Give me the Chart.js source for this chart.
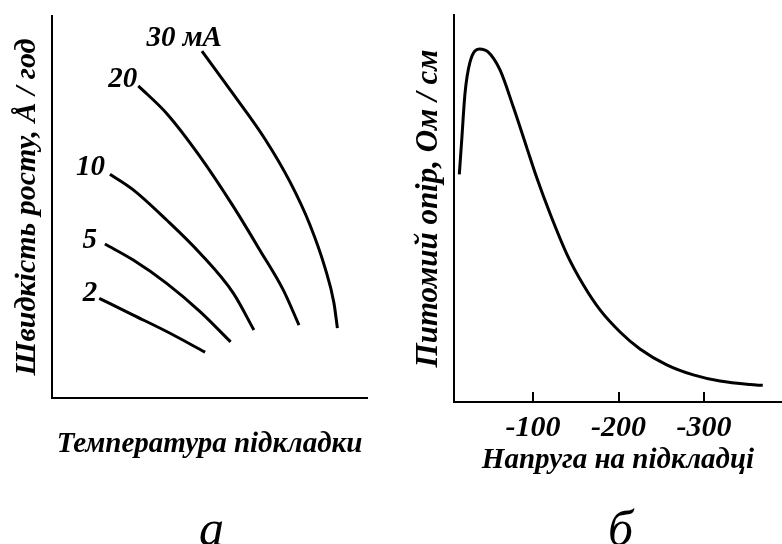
<!DOCTYPE html>
<html><head><meta charset="utf-8">
<script src="https://cdn.jsdelivr.net/npm/chart.js@4.4.0/dist/chart.umd.min.js"></script>
<style>
body{margin:0;background:#fff;width:782px;height:544px;overflow:hidden;position:relative;}
#c1{position:absolute;left:0;top:0;}
#c2{position:absolute;left:400px;top:0;}
.cap{position:absolute;font-family:'Liberation Serif',serif;font-style:italic;font-size:50px;line-height:50px;color:#000;}
</style></head><body>
<canvas id="c1" width="390" height="480"></canvas>
<canvas id="c2" width="382" height="480"></canvas>
<div class="cap" style="left:199px;top:503px;">а</div>
<div class="cap" style="left:608px;top:503px;">б</div>
<script>
// ---- Panel а: growth rate vs substrate temperature (relative units) ----
const currentLabels = ['2', '5', '10', '20', '30 мА'];
const c2X  = [15.0, 25.8, 36.4, 48.6];
const c2Y  = [26.1, 21.7, 17.4, 12.0];
const c5X  = [16.8, 25.8, 36.4, 47.0, 56.7];
const c5Y  = [40.3, 36.1, 30.0, 22.6, 14.7];
const c10X = [18.4, 25.8, 36.4, 47.0, 57.6, 64.1];
const c10Y = [58.6, 54.5, 46.6, 37.9, 27.4, 17.8];
const c20X = [27.4, 36.4, 47.0, 57.6, 66.0, 73.4, 78.4];
const c20Y = [81.7, 74.5, 63.2, 50.1, 38.7, 28.3, 19.1];
const c30X = [47.6, 57.5, 67.6, 75.6, 81.9, 86.7, 89.5, 90.6];
const c30Y = [90.8, 79.6, 67.8, 56.5, 45.3, 34.0, 24.9, 18.3];

// ---- Panel б: resistivity vs substrate bias ----
const biasX = [-13.8, -16.6, -20.5, -26.3, -37.2, -47.7, -61.4, -77, -92.6, -104.3, -119.9, -139.4, -158.8, -178.4, -201.8, -225.1, -256.4, -287.5, -318.7, -353.8, -368.7];
const rhoY  = [58.8, 67.6, 79.8, 87.8, 91.2, 90.4, 85.8, 76.2, 65.8, 58.0, 48.7, 38.3, 30.3, 23.8, 18.1, 13.7, 9.6, 7.0, 5.4, 4.5, 4.3];
const biasTicks = [-100, -200, -300];

const titleA_X = 'Температура підкладки';
const titleA_Y = 'Швидкість росту, Å / год';
const titleB_X = 'Напруга на підкладці';
const titleB_Y = 'Питомий опір, Ом / см';

const pts = (xs, ys) => xs.map((x, i) => ({x, y: ys[i]}));
const FAM = "'Liberation Serif', 'Times New Roman', serif";
const bi = size => ({family: FAM, size, weight: 'bold', style: 'italic', lineHeight: 1.2});
const lineDs = (label, data) => ({label, data, borderColor: '#000', borderWidth: 3, pointRadius: 0, fill: false, cubicInterpolationMode: 'monotone', borderCapStyle: 'butt'});

const curveLabelPlugin = {
  id: 'curveLabels',
  afterDatasetsDraw(chart, args, opts) {
    const ctx = chart.ctx;
    ctx.save();
    ctx.font = `italic bold ${opts.size}px ${FAM}`;
    ctx.fillStyle = '#000';
    ctx.textAlign = 'right';
    ctx.textBaseline = 'middle';
    chart.data.datasets.forEach((ds, i) => {
      const p = chart.getDatasetMeta(i).data[0];
      const o = opts.offsets[i];
      ctx.fillText(ds.label, p.x + o[0], p.y + o[1]);
    });
    ctx.restore();
  }
};

const inwardTicks = {
  id: 'inwardTicks',
  afterDraw(chart) {
    const s = chart.scales.x, ctx = chart.ctx;
    ctx.save();
    ctx.strokeStyle = '#000';
    ctx.lineWidth = 2;
    s.ticks.forEach(t => {
      const px = Math.round(s.getPixelForValue(t.value));
      ctx.beginPath();
      ctx.moveTo(px, s.top);
      ctx.lineTo(px, s.top - 10);
      ctx.stroke();
    });
    ctx.restore();
  }
};

const axisBorder = {display: true, color: '#000', width: 2};

new Chart(document.getElementById('c1'), {
  type: 'line',
  data: {datasets: [
    lineDs(currentLabels[0], pts(c2X, c2Y)),
    lineDs(currentLabels[1], pts(c5X, c5Y)),
    lineDs(currentLabels[2], pts(c10X, c10Y)),
    lineDs(currentLabels[3], pts(c20X, c20Y)),
    lineDs(currentLabels[4], pts(c30X, c30Y))
  ]},
  options: {
    responsive: false, animation: false, devicePixelRatio: 1,
    layout: {padding: {top: 16, right: 23, left: 0, bottom: 0}},
    plugins: {legend: {display: false}, tooltip: {enabled: false},
      curveLabels: {size: 29, offsets: [[-2, -5], [-8, -4], [-5, -7], [-1, -6], [20, -13]]}},
    scales: {
      x: {type: 'linear', min: 0, max: 100, ticks: {display: false}, grid: {display: false, drawTicks: false}, border: axisBorder,
          title: {display: true, text: titleA_X, color: '#000', font: bi(29), padding: {top: 18, bottom: 18}},
          afterFit: s => { s.height = 82; }},
      y: {type: 'linear', min: 0, max: 100, ticks: {display: false}, grid: {display: false, drawTicks: false}, border: axisBorder,
          title: {display: true, text: titleA_Y, color: '#000', font: bi(30), padding: {top: 9, bottom: 9}},
          afterFit: s => { s.width = 52; }}
    }
  },
  plugins: [curveLabelPlugin]
});

new Chart(document.getElementById('c2'), {
  type: 'line',
  data: {datasets: [lineDs('Питомий опір', pts(biasX, rhoY))]},
  options: {
    responsive: false, animation: false, devicePixelRatio: 1,
    layout: {padding: {top: 15, right: 0, left: 0, bottom: 0}},
    plugins: {legend: {display: false}, tooltip: {enabled: false}},
    scales: {
      x: {type: 'linear', reverse: true, min: -391.2, max: -7.6,
          afterBuildTicks: s => { s.ticks = biasTicks.map(v => ({value: v})); },
          ticks: {color: '#000', font: bi(30), padding: 8, maxRotation: 0, autoSkip: false, callback: v => String(v)},
          grid: {display: false, drawTicks: false}, border: axisBorder,
          title: {display: true, text: titleB_X, color: '#000', font: bi(29), padding: {top: 2, bottom: 2}},
          afterFit: s => { s.height = 78; }},
      y: {type: 'linear', min: 0, max: 100, ticks: {display: false}, grid: {display: false, drawTicks: false}, border: axisBorder,
          title: {display: true, text: titleB_Y, color: '#000', font: bi(31), padding: {top: 10, bottom: 10}},
          afterFit: s => { s.width = 54; }}
    }
  },
  plugins: [inwardTicks]
});
</script>
</body></html>
